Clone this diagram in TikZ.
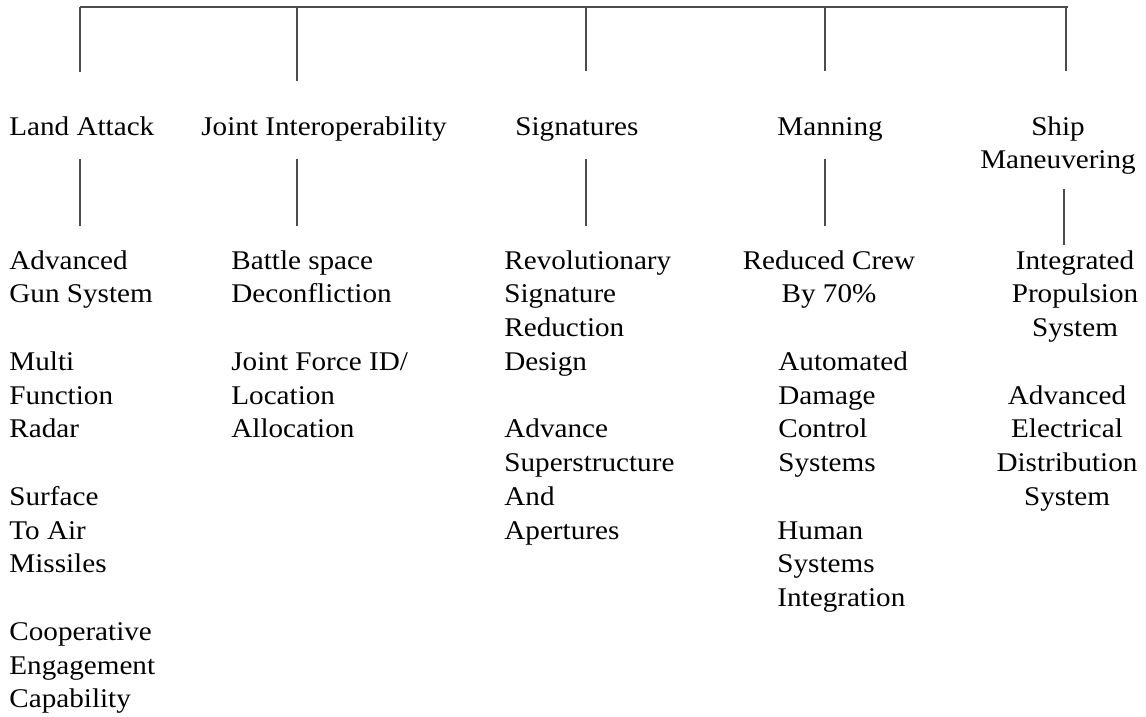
\documentclass[tikz,border=0pt]{standalone}
\usepackage{fontspec}
\setmainfont{Liberation Serif}[FakeStretch=1.08]
\usetikzlibrary{positioning}

\tikzset{
  head/.style={inner sep=0pt,anchor=base west,font=\fontsize{13.5}{16.875}\selectfont},
  item/.style={head,align=left},
  itemc/.style={inner sep=0pt,anchor=base,align=center,font=\fontsize{13.5}{16.875}\selectfont},
  tree/.style={draw=black!70,line width=0.75pt}
}

\begin{document}
\begin{tikzpicture}[x=0.5pt,y=-0.5pt]
  \useasboundingbox (0,0) rectangle (1146,717);
  % top bar and drops
  \coordinate (busL) at (80,7);
  \coordinate (busR) at (1068,7);
  \draw[tree] (busL) -- (busR);
  \coordinate (d1) at (80,72);
  \coordinate (d2) at (297,81);
  \coordinate (d3) at (586,71);
  \coordinate (d4) at (825,71);
  \coordinate (d5) at (1066,71);
  \draw[tree] (d1 |- busL) -- (d1);
  \draw[tree] (d2 |- busL) -- (d2);
  \draw[tree] (d3 |- busL) -- (d3);
  \draw[tree] (d4 |- busL) -- (d4);
  \draw[tree] (d5 |- busL) -- (d5);
  % areas (multi-line nodes sit on the baseline of their last line)
  \node[head] (land) at (9,135) {Land Attack};
  \node[head] (joint) at (201,135) {Joint Interoperability};
  \node[head] (sign) at (515,135) {Signatures};
  \node[head] (man) at (777,135) {Manning};
  \node[itemc] (ship) at (1058,168.75) {Ship\\Maneuvering};
  % links down to the technologies
  \coordinate (u1) at (80,159);   \coordinate (v1) at (80,226);
  \coordinate (u2) at (297,159);  \coordinate (v2) at (297,226);
  \coordinate (u3) at (586,159);  \coordinate (v3) at (586,226);
  \coordinate (u4) at (825,159);  \coordinate (v4) at (825,226);
  \coordinate (u5) at (1064,189); \coordinate (v5) at (1064,245);
  \draw[tree] (u1) -- (v1);
  \draw[tree] (u2) -- (v2);
  \draw[tree] (u3) -- (v3);
  \draw[tree] (u4) -- (v4);
  \draw[tree] (u5) -- (v5);
  % land attack
  \node[item] (gun) at (9,302.75) {Advanced\\Gun System};
  \node[item] (radar) at (9,437.75) {Multi\\Function\\Radar};
  \node[item] (sam) at (9,572.75) {Surface\\To Air\\Missiles};
  \node[item] (cec) at (9,707.75) {Cooperative\\Engagement\\Capability};
  % joint interoperability
  \node[item] (bsd) at (231,302.75) {Battle space\\Deconfliction};
  \node[item] (jfid) at (231,437.75) {Joint Force ID/\\Location\\Allocation};
  % signatures
  \node[item] (rsrd) at (504,370.25) {Revolutionary\\Signature\\Reduction\\Design};
  \node[item] (asa) at (504,539) {Advance\\Superstructure\\And\\Apertures};
  % manning
  \node[itemc] (crew) at (829,302.75) {Reduced Crew\\By 70\%};
  \node[item] (adcs) at (778,471.5) {Automated\\Damage\\Control\\Systems};
  \node[item] (hsi) at (777,606.5) {Human\\Systems\\Integration};
  % ship maneuvering
  \node[itemc] (ips) at (1075,336.5) {Integrated\\Propulsion\\System};
  \node[itemc] (aeds) at (1067,505.25) {Advanced\\Electrical\\Distribution\\System};
\end{tikzpicture}
\end{document}
